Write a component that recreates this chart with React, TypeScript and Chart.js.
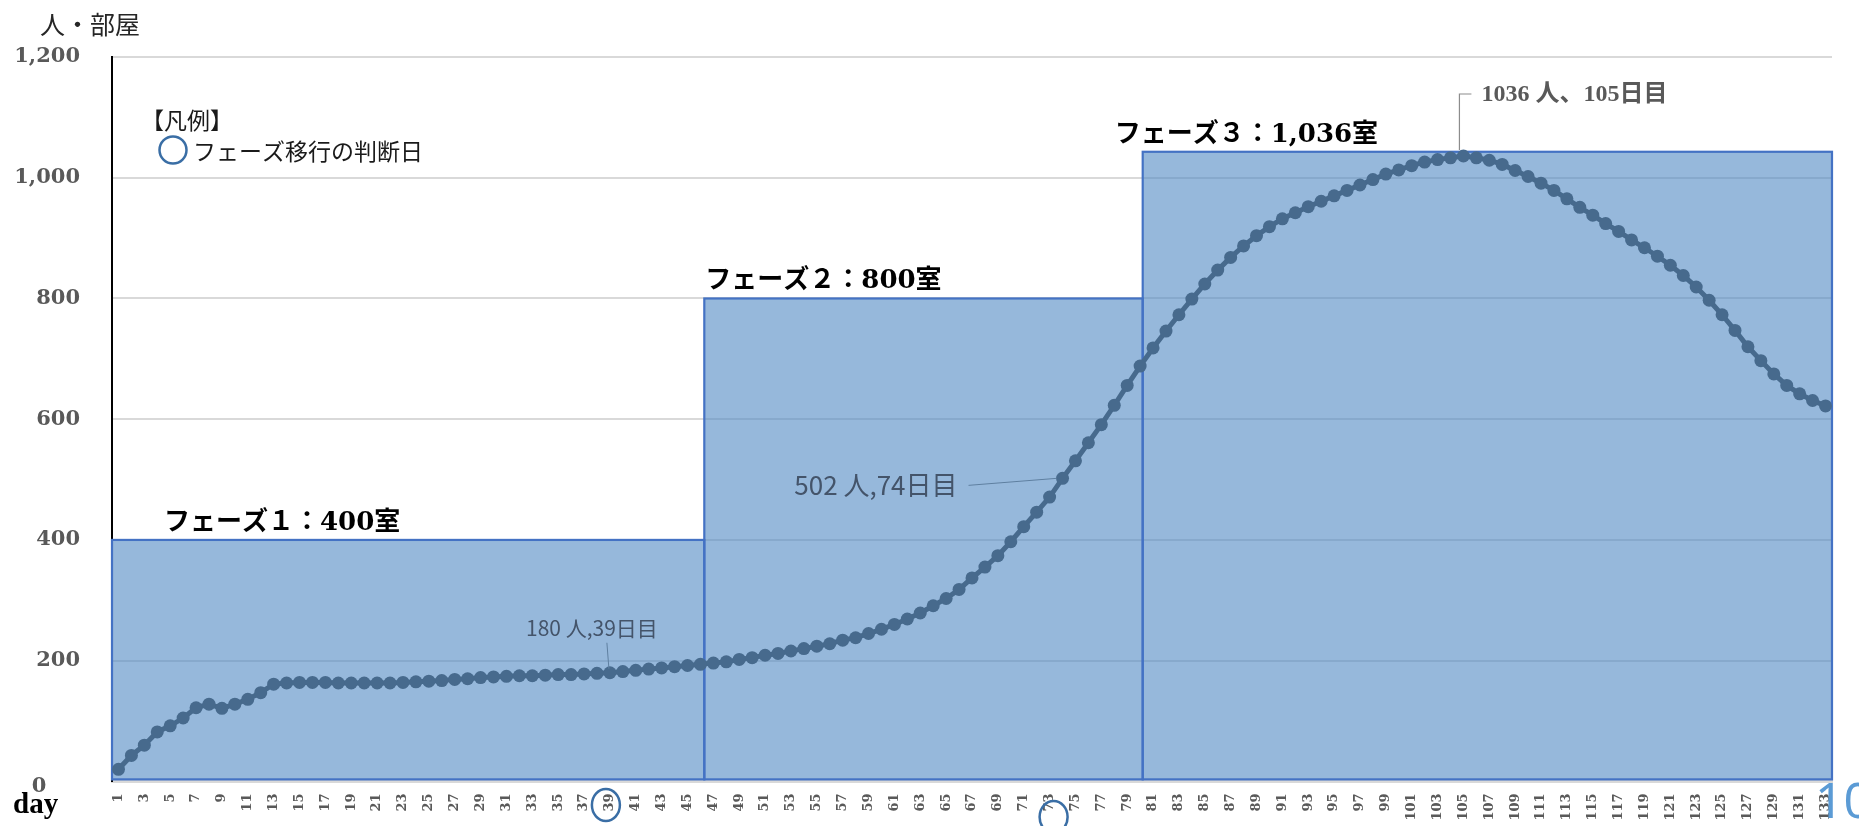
import React, { useEffect, useRef } from "react";
import { Chart, registerables } from "chart.js";

Chart.register(...registerables);

// ---------- data ----------
const days: string[] = Array.from({ length: 133 }, (_, i) => String(i + 1));

const patients: number[] = [
  // days 1-13
  20, 43, 60, 82, 92, 105, 122, 128, 121, 128, 136, 147, 161,
  // days 14-46
  163, 164, 164, 164, 163, 163, 163, 163, 163, 164, 165, 166, 167, 169, 170, 172, 173,
  174, 175, 175, 176, 177, 177, 178, 179, 180, 182, 184, 186, 188, 190, 192, 194,
  // days 47-80
  196, 198, 202, 205, 209, 212, 216, 220, 224, 228, 234, 238, 245, 252, 260, 269, 279,
  291, 303, 318, 337, 355, 374, 397, 422, 446, 471, 502, 531, 561, 591, 623, 656, 688,
  // days 81-105
  718, 746, 773, 799, 824, 847, 868, 887, 904, 919, 932, 942, 952, 961, 970, 979, 988,
  997, 1006, 1013, 1020, 1026, 1030, 1033, 1036,
  // days 106-133
  1033, 1029, 1022, 1012, 1002, 991, 979, 965, 951, 938, 924, 911, 897, 884, 870, 855,
  838, 819, 797, 773, 747, 720, 697, 675, 656, 642, 631, 622,
];

const phaseNames: string[] = ["フェーズ１：400室", "フェーズ２：800室", "フェーズ３：1,036室"];
const phaseRooms: number[] = [400, 800, 1043];
const phaseFromDay: number[] = [0.5, 46.3, 80.2];
const phaseToDay: number[] = [46.3, 80.2, 133.5];

const decisionDays: number[] = [39, 73];
const calloutDays: number[] = [39, 74, 105];
const calloutTexts: string[] = ["180 人,39日目", "502 人,74日目", "1036 人、105日目"];

const yMin = 0;
const yMax = 1200;
const yStep = 200;

const yTitle = "人・部屋";
const xTitle = "day";
const legendTitle = "【凡例】";
const legendText = "フェーズ移行の判断日";
const pageNumber = "10";

// ---------- styles ----------
const CJK = "'Noto Sans CJK JP'";
const SERIF_B = "'DejaVu Serif', 'Noto Sans CJK JP'";
const LINE_COLOR = "#476A8D";
const RECT_FILL = "rgba(80,137,195,0.6)";
const RECT_BORDER = "#4472C4";
const CIRCLE_COLOR = "#3A6EA5";

const overlayPlugin = {
  id: "overlay",
  beforeDatasetsDraw(chart: any) {
    const { ctx, scales } = chart;
    const x = scales.x;
    const y = scales.y;
    const y0 = y.getPixelForValue(0) - 2;
    ctx.save();
    const rects = phaseRooms.map((r, i) => {
      const l = x.getPixelForValue(phaseFromDay[i] - 1);
      const rr = x.getPixelForValue(phaseToDay[i] - 1);
      const t = y.getPixelForValue(r);
      return { l, rr, t };
    });
    ctx.fillStyle = RECT_FILL;
    rects.forEach((b) => ctx.fillRect(b.l, b.t, b.rr - b.l, y0 - b.t));
    ctx.strokeStyle = RECT_BORDER;
    ctx.lineWidth = 2.2;
    rects.forEach((b) => ctx.strokeRect(b.l, b.t, b.rr - b.l, y0 - b.t));
    ctx.restore();
  },
  afterDraw(chart: any) {
    const { ctx, scales } = chart;
    const x = scales.x;
    const y = scales.y;
    ctx.save();

    // phase labels
    const labelDx = [52, 1, -28];
    ctx.font = `bold 26px ${SERIF_B}`;
    ctx.fillStyle = "#000";
    ctx.textBaseline = "middle";
    ctx.textAlign = "left";
    phaseNames.forEach((name, i) => {
      const l = x.getPixelForValue(phaseFromDay[i] - 1);
      const t = y.getPixelForValue(phaseRooms[i]);
      ctx.fillText(name, l + labelDx[i], t - 17);
    });

    // callouts
    const pt = (d: number) => ({
      px: x.getPixelForValue(d - 1),
      py: y.getPixelForValue(patients[d - 1]),
    });
    // 39
    {
      const { px, py } = pt(calloutDays[0]);
      ctx.strokeStyle = "#5E7FA0";
      ctx.lineWidth = 1;
      ctx.beginPath();
      ctx.moveTo(px - 3, py - 30);
      ctx.lineTo(px - 1, py - 4);
      ctx.stroke();
      ctx.font = `21px ${CJK}`;
      ctx.fillStyle = "#44546A";
      ctx.textAlign = "center";
      ctx.fillText(calloutTexts[0], px - 18, py - 45);
    }
    // 74
    {
      const { px, py } = pt(calloutDays[1]);
      ctx.strokeStyle = "#5E7FA0";
      ctx.lineWidth = 1;
      ctx.beginPath();
      ctx.moveTo(px - 94, py + 7);
      ctx.lineTo(px - 6, py);
      ctx.stroke();
      ctx.font = `26px ${CJK}`;
      ctx.fillStyle = "#44546A";
      ctx.textAlign = "right";
      ctx.fillText(calloutTexts[1], px - 105, py + 7);
    }
    // 105
    {
      const { px, py } = pt(calloutDays[2]);
      const lx = px - 4;
      const ly = py - 62;
      ctx.strokeStyle = "#8C8C8C";
      ctx.lineWidth = 1.2;
      ctx.beginPath();
      ctx.moveTo(lx, py - 6);
      ctx.lineTo(lx, ly);
      ctx.lineTo(lx + 12, ly);
      ctx.stroke();
      ctx.font = `bold 24px 'Liberation Serif', ${CJK}`;
      ctx.fillStyle = "#595959";
      ctx.textAlign = "left";
      ctx.fillText(calloutTexts[2], lx + 22, ly + 1);
    }

    // decision-day circles on the x axis
    const circleY = [805, 817];
    const circleDx = [-4, 4];
    ctx.strokeStyle = CIRCLE_COLOR;
    ctx.lineWidth = 2.5;
    decisionDays.forEach((d, i) => {
      const cx = x.getPixelForValue(d - 1) + circleDx[i];
      ctx.beginPath();
      ctx.ellipse(cx, circleY[i], 14, 16, 0, 0, Math.PI * 2);
      ctx.stroke();
    });

    // legend
    ctx.fillStyle = "#1a1a1a";
    ctx.textAlign = "left";
    ctx.font = `23px ${CJK}`;
    ctx.fillText(legendTitle, 141, 120);
    ctx.fillText(legendText, 193, 151);
    ctx.beginPath();
    ctx.arc(173, 150, 13.5, 0, Math.PI * 2);
    ctx.strokeStyle = CIRCLE_COLOR;
    ctx.lineWidth = 2.5;
    ctx.stroke();

    // axis titles
    ctx.font = `25px ${CJK}`;
    ctx.fillStyle = "#262626";
    ctx.fillText(yTitle, 40, 24);

    ctx.font = `bold 29px 'Liberation Serif', serif`;
    ctx.fillStyle = "#000";
    ctx.textBaseline = "alphabetic";
    ctx.fillText(xTitle, 13, 813);

    // zero label
    ctx.font = `bold 21px ${SERIF_B}`;
    ctx.fillStyle = "#595959";
    ctx.textAlign = "center";
    ctx.textBaseline = "middle";
    ctx.fillText(String(yMin), 39, y.getPixelForValue(0) + 5);

    // page number
    ctx.font = `50px 'Noto Sans', sans-serif`;
    ctx.fillStyle = "#5B9BD5";
    ctx.textAlign = "left";
    ctx.textBaseline = "alphabetic";
    ctx.fillText(pageNumber, 1815, 818);

    ctx.restore();
  },
};

export default function App() {
  const ref = useRef<HTMLCanvasElement | null>(null);

  useEffect(() => {
    if (!ref.current) return;
    const chart = new Chart(ref.current, {
      type: "line",
      data: {
        labels: days,
        datasets: [
          {
            label: "患者数",
            data: patients,
            borderColor: LINE_COLOR,
            backgroundColor: LINE_COLOR,
            borderWidth: 5,
            pointRadius: 6.5,
            pointBorderWidth: 0,
            pointBackgroundColor: LINE_COLOR,
            tension: 0,
            clip: false as any,
          },
        ],
      },
      options: {
        animation: false,
        responsive: false,
        events: [],
        layout: { padding: { top: 57, right: 27, left: 0, bottom: 0 } },
        plugins: {
          legend: { display: false },
          tooltip: { enabled: false },
          title: { display: false },
        },
        scales: {
          x: {
            type: "category",
            offset: true,
            grid: { display: false, drawTicks: false },
            border: { display: true, color: "#D9D9D9", width: 3 },
            ticks: {
              autoSkip: false,
              minRotation: 90,
              maxRotation: 90,
              padding: 12,
              color: "#595959",
              font: { family: "'DejaVu Serif', serif", weight: "bold", size: 13 },
              callback: (_v: any, idx: number) => (idx % 2 === 0 ? days[idx] : ""),
            },
            afterFit: (s: any) => {
              s.height = 38;
            },
          },
          y: {
            min: yMin,
            max: yMax,
            grid: { color: "#D9D9D9", lineWidth: 2, drawTicks: false },
            border: { display: true, color: "#000", width: 2 },
            ticks: {
              stepSize: yStep,
              padding: 32,
              color: "#595959",
              font: { family: "'DejaVu Serif', serif", weight: "bold", size: 21 },
              callback: (v: any) => (Number(v) === 0 ? "" : Number(v).toLocaleString("en-US")),
            },
            afterFit: (s: any) => {
              s.width = 112;
            },
          },
        },
      },
      plugins: [overlayPlugin],
    });
    return () => chart.destroy();
  }, []);

  return (
    <div style={{ position: "fixed", left: 0, top: 0, width: 1859, height: 826, background: "#fff" }}>
      <canvas ref={ref} width={1859} height={826} style={{ width: 1859, height: 826, display: "block" }} />
    </div>
  );
}
